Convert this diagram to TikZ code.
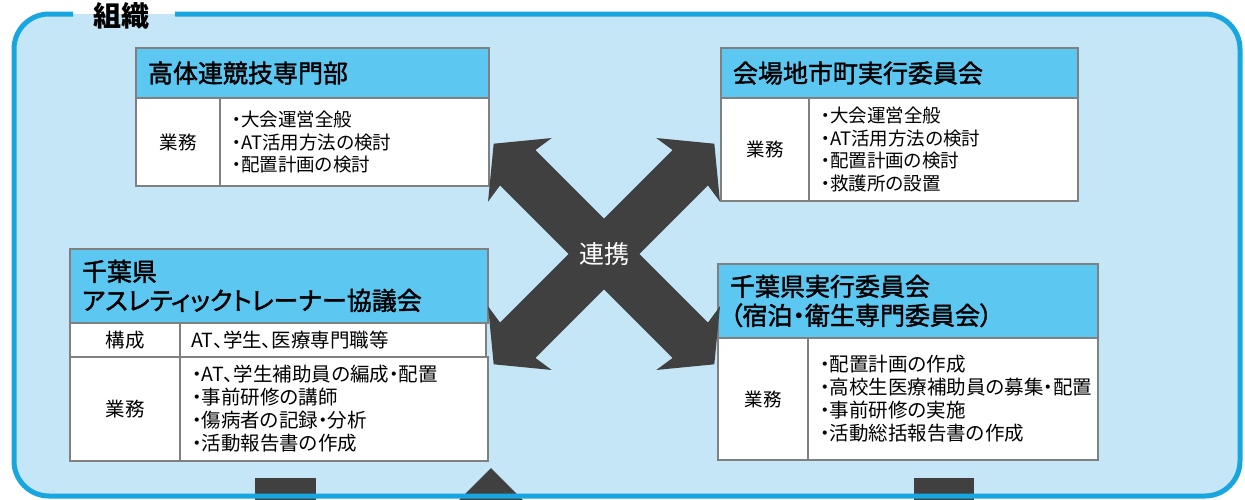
\documentclass[tikz,border=0pt]{standalone}
\usepackage{fontspec}
\setmainfont{Noto Sans CJK JP}[RawFeature=+palt]
\newfontfamily\hdrfamily{Noto Sans CJK JP}[RawFeature=+palt, FakeBold=1.6]
\definecolor{frameblue}{HTML}{17A6E0}
\definecolor{paleblue}{HTML}{C5E6F6}
\definecolor{hblue}{HTML}{5CC7F1}
\definecolor{bgray}{HTML}{808080}
\definecolor{darkarrow}{HTML}{404040}
\newcommand\hdrfont{\hdrfamily\fontsize{25}{29}\selectfont}
\newcommand\smallbody{\fontsize{18.5}{22.5}\selectfont}
\newcommand\bigbody{\fontsize{19.5}{23}\selectfont}
\begin{document}
\begin{tikzpicture}[x=1pt,y=-1pt,
  hdr/.style={draw=bgray, line width=2pt, fill=hblue, anchor=north west, inner xsep=12pt, inner ysep=0pt, align=left, font=\hdrfont},
  lcell/.style={draw=bgray, line width=2pt, fill=white, anchor=north west, inner sep=0pt, align=center},
  rcell/.style={draw=bgray, line width=2pt, fill=white, anchor=north west, inner xsep=12pt, inner ysep=0pt, align=left},
  arrowfill/.style={fill=darkarrow}
]
\useasboundingbox (0,0) rectangle (1245,499);
% frame background
\fill[paleblue, rounded corners=35pt] (14,14) rectangle (1240,496);
% bottom cut-off shapes
\begin{scope}
  \clip (0,0) rectangle (1245,499);
  \fill[darkarrow] (255,478) rectangle (316,505);
  \fill[darkarrow] (491,468) -- (530,507) -- (452,507) -- cycle;
  \fill[darkarrow] (914,478) rectangle (974,505);
\end{scope}
% frame line with gap for title
\draw[frameblue, line width=5pt, rounded corners=35pt] (175,14) -- (1240,14) -- (1240,496) -- (14,496) -- (14,14) -- (73,14);
\node[font=\bfseries\fontsize{28}{28}\selectfont, inner sep=0pt] (title) at (121,16) {組織};

% Box 1
\node[hdr, text width=329pt, minimum height=50pt] (b1h) at (135,47) {高体連競技専門部};
\node[lcell, minimum width=84pt, minimum height=88pt, font=\smallbody] (b1l) at (135,97) {業務};
\node[rcell, text width=245pt, minimum height=88pt, font=\smallbody] (b1r) at (219,97) {・大会運営全般\\・AT活用方法の検討\\・配置計画の検討};

% Box 2
\node[hdr, text width=333pt, minimum height=50pt] (b2h) at (720,47) {会場地市町実行委員会};
\node[lcell, minimum width=88pt, minimum height=103pt, font=\smallbody] (b2l) at (720,97) {業務};
\node[rcell, text width=245pt, minimum height=103pt, font=\smallbody] (b2r) at (808,97) {・大会運営全般\\・AT活用方法の検討\\・配置計画の検討\\・救護所の設置};

% Box 3
\node[hdr, text width=394pt, minimum height=74pt] (b3h) at (69,248) {千葉県\\アスレティックトレーナー協議会};
\node[lcell, minimum width=110pt, minimum height=34pt, font=\bigbody] (b3l1) at (69,322) {構成};
\node[rcell, text width=284pt, minimum height=34pt, inner xsep=11pt, font=\bigbody] (b3r1) at (179,322) {AT、学生、医療専門職等};
\node[lcell, minimum width=110pt, minimum height=104pt, font=\bigbody] (b3l2) at (69,356) {業務};
\node[rcell, text width=284pt, minimum height=104pt, font=\bigbody] (b3r2) at (179,356) {・AT、学生補助員の編成・配置\\・事前研修の講師\\・傷病者の記録・分析\\・活動報告書の作成};

% Box 4
\node[hdr, text width=356pt, minimum height=74pt] (b4h) at (717,263) {千葉県実行委員会\\（宿泊・衛生専門委員会）};
\node[lcell, minimum width=90pt, minimum height=122pt, font=\smallbody] (b4l) at (717,337) {業務};
\node[rcell, text width=266pt, minimum height=122pt, font=\bigbody] (b4r) at (807,337) {・配置計画の作成\\・高校生医療補助員の募集・配置\\・事前研修の実施\\・活動総括報告書の作成};

% cross arrows
\coordinate (c) at (604,254);
\foreach \ang in {45,-45}{
  \begin{scope}[shift={(c)}, rotate=\ang]
    \fill[arrowfill] (-156,0) -- (-119,45) -- (-122,25) -- (122,25) -- (119,45) -- (156,0)
      -- (119,-45) -- (122,-25) -- (-122,-25) -- (-119,-45) -- cycle;
  \end{scope}
}
\node[text=white, font=\fontsize{25}{25}\selectfont, inner sep=0pt] (renkei) at (c) {連携};
\end{tikzpicture}
\end{document}
